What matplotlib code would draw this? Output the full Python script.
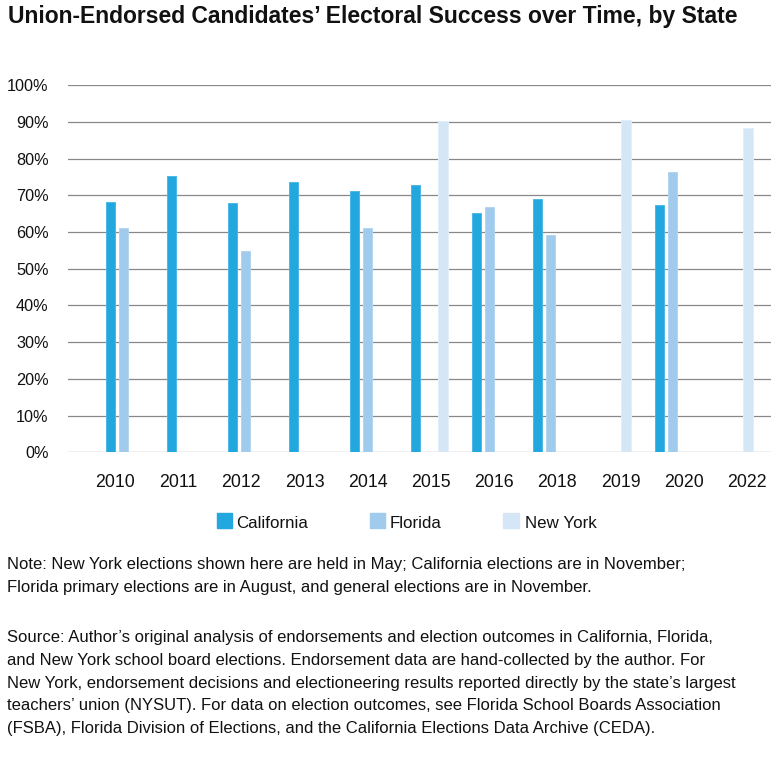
import numpy as np
import matplotlib.pyplot as plt
from matplotlib.patches import Rectangle

plt.rcParams['font.family'] = ['Liberation Sans', 'DejaVu Sans']

# data (percent of endorsed candidates who won)
years = ['2010', '2011', '2012', '2013', '2014', '2015', '2016', '2018', '2019', '2020', '2022']
california = [68.1, 75.3, 67.9, 73.7, 71.2, 72.8, 65.2, 69.1, np.nan, 67.4, np.nan]
florida = [61.2, np.nan, 54.8, np.nan, 61.2, np.nan, 66.9, 59.3, np.nan, 76.5, np.nan]
new_york = [np.nan, np.nan, np.nan, np.nan, np.nan, 90.2, np.nan, np.nan, 90.6, np.nan, 88.5]

states = ['California', 'Florida', 'New York']
colors = ['#22a7df', '#a0cbec', '#d5e6f6']
edges = ['#4cb8e6', '#b3d6f0', '#e2eef9']
offsets = [-0.225, 0.0, 0.232]

fig = plt.figure(figsize=(7.83, 7.58), dpi=100)
ax = fig.add_axes([0.08685, 0.40330, 0.89782, 0.48417])

x = np.arange(len(years))
for vals, off, c, ec in zip([california, florida, new_york], offsets, colors, edges):
    ax.bar(x + off, vals, width=0.15, color=c, edgecolor=ec, linewidth=0.7, zorder=3)

ax.set_ylim(0, 100)
ax.set_xlim(-0.916, 10.608)
ax.set_yticks(np.arange(0, 101, 10))
ax.set_yticklabels([f'{v}%' for v in range(0, 101, 10)], fontsize=11.7)
# the year labels sit on a slightly wider spacing than the bar groups
ax.set_xticks(-0.146 + 1.036 * x)
ax.set_xticklabels(years, fontsize=12.8)
ax.tick_params(axis='both', length=0, colors='#111111')
ax.tick_params(axis='y', pad=14)
ax.tick_params(axis='x', pad=15.5)
ax.grid(axis='y', color='#888888', linewidth=0.9, zorder=0)
ax.set_axisbelow(True)
for s in ax.spines.values():
    s.set_visible(False)

W, H = 783, 758

# legend, drawn by hand
leg_box = [(217.3, 14.5), (370, 14.5), (503.3, 15.7)]
leg_text = [236, 390, 525]
for (lx, lw), tx, c, name in zip(leg_box, leg_text, colors, states):
    fig.patches.append(Rectangle((lx / W, 1 - 527.7 / H), lw / W, 14.5 / H,
                                 transform=fig.transFigure, color=c))
    fig.text(tx / W, 1 - 527.5 / H, name, fontsize=12.2, va='baseline', color='#111111')

fig.text(8 / W, 1 - 23.3 / H, 'Union-Endorsed Candidates\u2019 Electoral Success over Time, by State',
         fontsize=16.5, fontweight='bold', va='baseline', color='#111111')

note_lines = [
    'Note: New York elections shown here are held in May; California elections are in November;',
    'Florida primary elections are in August, and general elections are in November.',
]
source_lines = [
    'Source: Author\u2019s original analysis of endorsements and election outcomes in California, Florida,',
    'and New York school board elections. Endorsement data are hand-collected by the author. For',
    'New York, endorsement decisions and electioneering results reported directly by the state\u2019s largest',
    'teachers\u2019 union (NYSUT). For data on election outcomes, see Florida School Boards Association',
    '(FSBA), Florida Division of Elections, and the California Elections Data Archive (CEDA).',
]
for i, line in enumerate(note_lines):
    fig.text(7.3 / W, 1 - (569.3 + 22.7 * i) / H, line, fontsize=12, va='baseline', color='#111111')
for i, line in enumerate(source_lines):
    fig.text(7.3 / W, 1 - (642.3 + 22.7 * i) / H, line, fontsize=12, va='baseline', color='#111111')

fig.savefig('out.png', dpi=100)
